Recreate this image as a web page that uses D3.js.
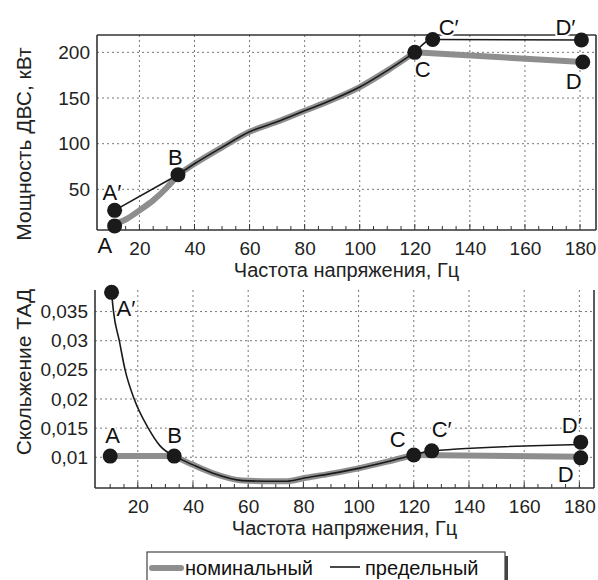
<!DOCTYPE html>
<html>
<head>
<meta charset="utf-8">
<script src="https://cdn.jsdelivr.net/npm/d3@7"></script>
<style>
  body { margin: 0; background: #fff; }
  svg { font-family: "Liberation Sans", Arial, sans-serif; }
  .grid line { stroke: #777; stroke-width: 1; stroke-dasharray: 2,3; }
  .tick text { fill: #222; }
  .pt-label { fill: #111; stroke: #fff; stroke-width: 4; paint-order: stroke; stroke-linejoin: round; }
</style>
</head>
<body>
<svg id="chart" width="598" height="580"></svg>
<script>
'use strict';

// ---- data ----
var powerTicks = [50, 100, 150, 200];
var slipTicks = [0.01, 0.015, 0.02, 0.025, 0.03, 0.035];
var freqTicks = [20, 40, 60, 80, 100, 120, 140, 160, 180];

// power, kW
var powerNomAB = [[11, 12], [15, 17], [20, 27], [25, 38], [30, 52], [34, 66]];
var powerLimAB = [[11, 27], [34, 66]];
var powerBC = [[34, 66], [40, 78], [50, 96], [60, 113], [70, 124], [80, 136], [90, 148], [100, 162], [110, 180], [120, 200]];
var powerNomCD = [[120, 200], [181, 189.5]];
var powerLimCD = [[120, 200], [126.5, 214], [180.5, 213.5]];
var powerPoints = [
  {name: 'A', x: 11, y: 10}, {name: 'A′', x: 11, y: 27}, {name: 'B', x: 34, y: 66},
  {name: 'C', x: 120, y: 200}, {name: 'C′', x: 126.5, y: 214},
  {name: 'D′', x: 180.5, y: 213.5}, {name: 'D', x: 181, y: 189.5}
];

// slip
var slipNomAB = [[10, 0.0102], [33.2, 0.0102]];
var slipLimAB = [[10.5, 0.0383], [11.2, 0.035], [13.3, 0.030], [15.4, 0.025], [18.7, 0.020], [23.8, 0.015], [28, 0.012], [33.2, 0.0102]];
var slipBC = [[33.2, 0.0102], [40, 0.0087], [47, 0.0073], [58, 0.0060], [66, 0.0059], [74, 0.0059], [80, 0.0064], [90, 0.0072], [100, 0.0081], [110, 0.0092], [120, 0.0104]];
var slipNomCD = [[120, 0.0104], [180.5, 0.0101]];
var slipLimCD = [[120, 0.0104], [126.5, 0.0111], [180.5, 0.0122]];
var slipPoints = [
  {name: 'A', x: 10, y: 0.0102}, {name: 'A′', x: 10.5, y: 0.0383}, {name: 'B', x: 33.2, y: 0.0102},
  {name: 'C', x: 120, y: 0.0104}, {name: 'C′', x: 126.5, y: 0.0111},
  {name: 'D′', x: 180.5, y: 0.0126}, {name: 'D', x: 180.5, y: 0.0099}
];

var legendNames = ['номинальный', 'предельный'];

// ---- label placement (px offsets from marker) ----
var powerLabelOff = {'A': [-17, 27], 'A′': [-12, -10], 'B': [-10, -10], 'C': [0, 25], 'C′': [6, -5], 'D′': [-26, -5], 'D': [-17, 27]};
var slipLabelOff = {'A': [-5, -13], 'A′': [5, 24], 'B': [-7, -13], 'C': [-24, -8], 'C′': [0, -14], 'D′': [-19, -9], 'D': [-23, 24]};

var NOM_COLOR = '#8e8e8e', LIM_COLOR = '#1a1a1a', AXIS_COLOR = '#333';

var svg = d3.select('#chart');
var commaFmt = d3.formatLocale({decimal: ',', thousands: ' ', grouping: [3], currency: ['', '']}).format('~g');

function panel(opts) {
  var x = d3.scaleLinear().domain(opts.xDomain).range([opts.left, opts.right]);
  var y = d3.scaleLinear().domain(opts.yDomain).range([opts.bottom, opts.top]);
  var g = svg.append('g');

  // grid
  var grid = g.append('g').attr('class', 'grid');
  grid.selectAll('.gx').data(freqTicks).enter().append('line')
    .attr('x1', d => x(d)).attr('x2', d => x(d))
    .attr('y1', opts.top).attr('y2', opts.bottom);
  grid.selectAll('.gy').data(opts.yTicks).enter().append('line')
    .attr('x1', opts.left).attr('x2', opts.right)
    .attr('y1', d => y(d)).attr('y2', d => y(d));

  // axes
  var xAxis = g.append('g').attr('transform', 'translate(0,' + opts.bottom + ')')
    .call(d3.axisBottom(x).tickValues(freqTicks).tickSize(0).tickPadding(12));
  var yAxis = g.append('g').attr('transform', 'translate(' + opts.left + ',0)')
    .call(d3.axisLeft(y).tickValues(opts.yTicks).tickSize(0).tickPadding(7).tickFormat(opts.fmt));
  [xAxis, yAxis].forEach(function (a) {
    a.select('.domain').remove();
    a.selectAll('text').attr('font-size', 19).attr('font-family', 'Liberation Sans, Arial, sans-serif');
  });

  // minor ticks on x
  g.append('g').selectAll('line').data(d3.range(10, 185, 5)).enter().append('line')
    .attr('x1', d => x(d)).attr('x2', d => x(d))
    .attr('y1', opts.bottom).attr('y2', d => opts.bottom - (d % 20 === 0 ? 6 : 4))
    .attr('stroke', AXIS_COLOR).attr('stroke-width', 1);

  // frame
  var frame = g.append('g').attr('stroke', AXIS_COLOR).attr('stroke-width', 1.6).attr('fill', 'none');
  frame.append('line').attr('x1', opts.left).attr('x2', opts.left).attr('y1', opts.top).attr('y2', opts.bottom);
  frame.append('line').attr('x1', opts.left).attr('x2', opts.right).attr('y1', opts.bottom).attr('y2', opts.bottom);
  frame.append('line').attr('x1', opts.right).attr('x2', opts.right).attr('y1', opts.top).attr('y2', opts.bottom);
  if (opts.topBorder) {
    frame.append('line').attr('x1', opts.left).attr('x2', opts.right).attr('y1', opts.top).attr('y2', opts.top);
  }

  // titles
  g.append('text').attr('x', (opts.left + opts.right) / 2).attr('y', opts.bottom + 47)
    .attr('text-anchor', 'middle').attr('font-size', 20).attr('fill', '#222')
    .text('Частота напряжения, Гц');
  g.append('text').attr('transform', 'translate(31,' + opts.yTitleMid + ') rotate(-90)')
    .attr('text-anchor', 'middle').attr('font-size', 21).attr('fill', '#222')
    .text(opts.yTitle);

  // point labels
  g.append('g').selectAll('text').data(opts.points).enter().append('text')
    .attr('class', 'pt-label').attr('font-size', 22)
    .attr('x', d => x(d.x) + opts.labelOff[d.name][0])
    .attr('y', d => y(d.y) + opts.labelOff[d.name][1])
    .text(d => d.name);

  // lines
  var line = d3.line().x(d => x(d[0])).y(d => y(d[1])).curve(d3.curveMonotoneX);
  opts.nominal.forEach(function (s) {
    g.append('path').attr('d', line(s)).attr('fill', 'none')
      .attr('stroke', NOM_COLOR).attr('stroke-width', 6).attr('stroke-linecap', 'round').attr('stroke-linejoin', 'round');
  });
  opts.limit.forEach(function (s) {
    g.append('path').attr('d', line(s)).attr('fill', 'none')
      .attr('stroke', LIM_COLOR).attr('stroke-width', 1.6);
  });

  // markers
  g.append('g').selectAll('circle').data(opts.points).enter().append('circle')
    .attr('cx', d => x(d.x)).attr('cy', d => y(d.y)).attr('r', 7.5).attr('fill', '#1a1a1a');
}

panel({
  left: 97, right: 596, top: 35, bottom: 230,
  xDomain: [4.6, 185.8], yDomain: [5.5, 219],
  yTicks: powerTicks, fmt: d3.format('d'), topBorder: true,
  yTitle: 'Мощность ДВС, кВт', yTitleMid: 144,
  points: powerPoints, labelOff: powerLabelOff,
  nominal: [powerNomAB, powerBC, powerNomCD],
  limit: [powerLimAB, powerBC, powerLimCD]
});

panel({
  left: 95, right: 594, top: 290, bottom: 488,
  xDomain: [4.5, 185.3], yDomain: [0.00473, 0.0387],
  yTicks: slipTicks, fmt: commaFmt, topBorder: false,
  yTitle: 'Скольжение ТАД', yTitleMid: 372,
  points: slipPoints, labelOff: slipLabelOff,
  nominal: [slipNomAB, slipBC, slipNomCD],
  limit: [slipLimAB, slipBC, slipLimCD]
});

// legend
var lg = svg.append('g');
lg.append('rect').attr('x', 150).attr('y', 556).attr('width', 358).attr('height', 40).attr('fill', '#444');
lg.append('rect').attr('x', 147).attr('y', 552).attr('width', 358).attr('height', 40)
  .attr('fill', '#fff').attr('stroke', '#444').attr('stroke-width', 1.2);
lg.append('line').attr('x1', 152).attr('x2', 181).attr('y1', 568).attr('y2', 568)
  .attr('stroke', NOM_COLOR).attr('stroke-width', 6).attr('stroke-linecap', 'round');
lg.append('text').attr('x', 185).attr('y', 575).attr('font-size', 20).attr('fill', '#111').text(legendNames[0]);
lg.append('line').attr('x1', 330).attr('x2', 360).attr('y1', 567).attr('y2', 567)
  .attr('stroke', LIM_COLOR).attr('stroke-width', 1.6);
lg.append('text').attr('x', 365).attr('y', 575).attr('font-size', 20).attr('fill', '#111').text(legendNames[1]);
</script>
</body>
</html>
